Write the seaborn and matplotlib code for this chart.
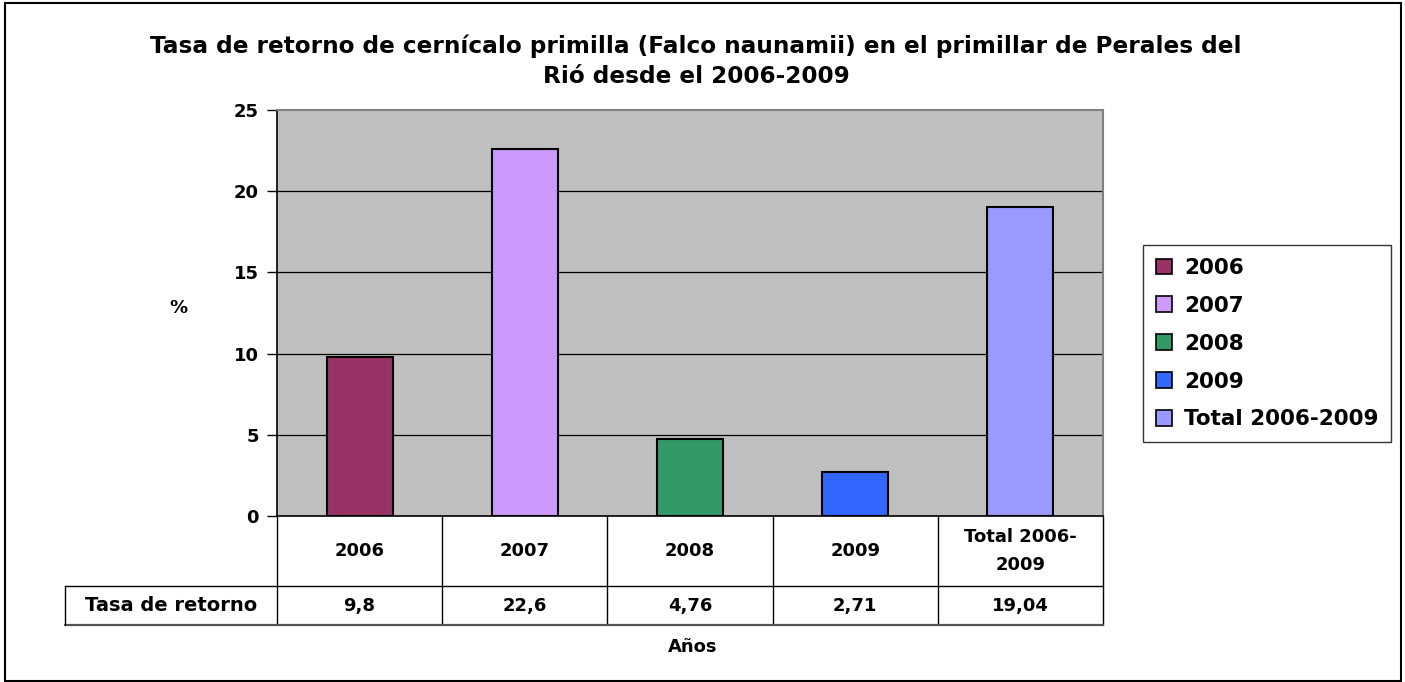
import matplotlib
matplotlib.use("Agg")
import matplotlib.pyplot as plt
import seaborn as sns
import pandas as pd
from matplotlib.patches import Rectangle, Patch
from matplotlib.lines import Line2D

categories = ["2006", "2007", "2008", "2009", "Total 2006-2009"]
table_labels = ["2006", "2007", "2008", "2009", "Total 2006-\n2009"]
values = [9.8, 22.6, 4.76, 2.71, 19.04]
colors = ["#993366", "#CC99FF", "#339966", "#3366FF", "#9999FF"]
row_label = "Tasa de retorno"
title = "Tasa de retorno de cernícalo primilla (Falco naunamii) en el primillar de Perales del\nRió desde el 2006-2009"
yticks = [0, 5, 10, 15, 20, 25]

sns.set_theme(style="white")
plt.rcParams["font.family"] = ["DejaVu Sans"]
plt.rcParams["font.weight"] = "bold"
plt.rcParams["text.color"] = "black"
plt.rcParams["xtick.color"] = "black"
plt.rcParams["ytick.color"] = "black"

W, H = 1405, 682
fig = plt.figure(figsize=(W / 100, H / 100), dpi=100)
fig.patch.set_facecolor("white")

L, R, T, B = 277, 1103, 110, 516
ax = fig.add_axes([L / W, 1 - B / H, (R - L) / W, (B - T) / H])
ax.set_facecolor("#C0C0C0")

df = pd.DataFrame({"cat": categories, "val": values})
sns.barplot(data=df, x="cat", y="val", hue="cat", palette=colors, dodge=False,
            saturation=1, width=0.4, edgecolor="black", linewidth=1.5, legend=False,
            ax=ax, zorder=3)

ax.set_ylim(0, 25)
ax.set_xlim(-0.5, len(categories) - 0.5)
ax.set_yticks(yticks)
ax.set_yticklabels([str(t) for t in yticks], fontsize=13, fontweight="bold", color="black")
ax.set_xticks([])
ax.set_xlabel("")
ax.set_ylabel("")
for y in yticks[1:-1]:
    ax.axhline(y, color="black", linewidth=0.9, zorder=1)
ax.tick_params(axis="y", direction="out", length=7, width=1, color="black", pad=6, left=True)
for s in ["top", "right"]:
    ax.spines[s].set_color("#808080")
    ax.spines[s].set_linewidth(1.5)
ax.spines["left"].set_color("black")
ax.spines["left"].set_linewidth(1.2)
ax.spines["bottom"].set_color("black")
ax.spines["bottom"].set_linewidth(1.2)

# data table below the axes
axh = B - T
r1 = -70 / axh
r2 = -109 / axh
left_lab = (65 - L) / (R - L) * len(categories) - 0.5
tr = ax.get_xaxis_transform()
kw = dict(color="black", linewidth=1.0, transform=tr, clip_on=False)
n = len(categories)
for i in range(n + 1):
    x = i - 0.5
    ax.add_line(Line2D([x, x], [0, r2], **kw))
ax.add_line(Line2D([left_lab, n - 0.5], [r1, r1], **kw))
ax.add_line(Line2D([left_lab, n - 0.5], [r2, r2], color="#555555", linewidth=1.6,
                   transform=tr, clip_on=False))
ax.add_line(Line2D([left_lab, left_lab], [r1, r2], **kw))
for i, (lab, v) in enumerate(zip(table_labels, values)):
    ax.text(i, r1 / 2, lab, transform=tr, ha="center", va="center", fontsize=13,
            fontweight="bold", linespacing=1.75)
    ax.text(i, (r1 + r2) / 2, str(v).replace(".", ","), transform=tr, ha="center",
            va="center", fontsize=13, fontweight="bold")
ax.text((left_lab - 0.5) / 2, (r1 + r2) / 2, row_label, transform=tr, ha="center",
        va="center", fontsize=14, fontweight="bold")

fig.text(693 / W, 1 - 647 / H, "Años", ha="center", va="center", fontsize=13, fontweight="bold")
fig.text(178 / W, 1 - 308 / H, "%", ha="center", va="center", fontsize=13, fontweight="bold")
fig.text(696 / W, 1 - 61 / H, title, ha="center", va="center", fontsize=16.7,
         fontweight="bold", linespacing=1.38)

handles = [Patch(facecolor=c, edgecolor="black", linewidth=1.2) for c in colors]
leg = fig.legend(handles, categories, loc="upper left",
                 bbox_to_anchor=(1143 / W, 1 - 245 / H), frameon=True, fancybox=False,
                 prop={"size": 15.5, "weight": "bold"}, handlelength=0.75, handleheight=0.75,
                 labelspacing=0.83, handletextpad=0.55, borderpad=0.6, borderaxespad=0)
leg.get_frame().set_edgecolor("black")
leg.get_frame().set_linewidth(1.0)

fig.add_artist(Rectangle((5 / W, 0.002), (1401 - 5) / W, 1 - 3 / H - 0.002,
                         transform=fig.transFigure, fill=False, edgecolor="black",
                         linewidth=1.5))

fig.savefig("out.png", dpi=100)
